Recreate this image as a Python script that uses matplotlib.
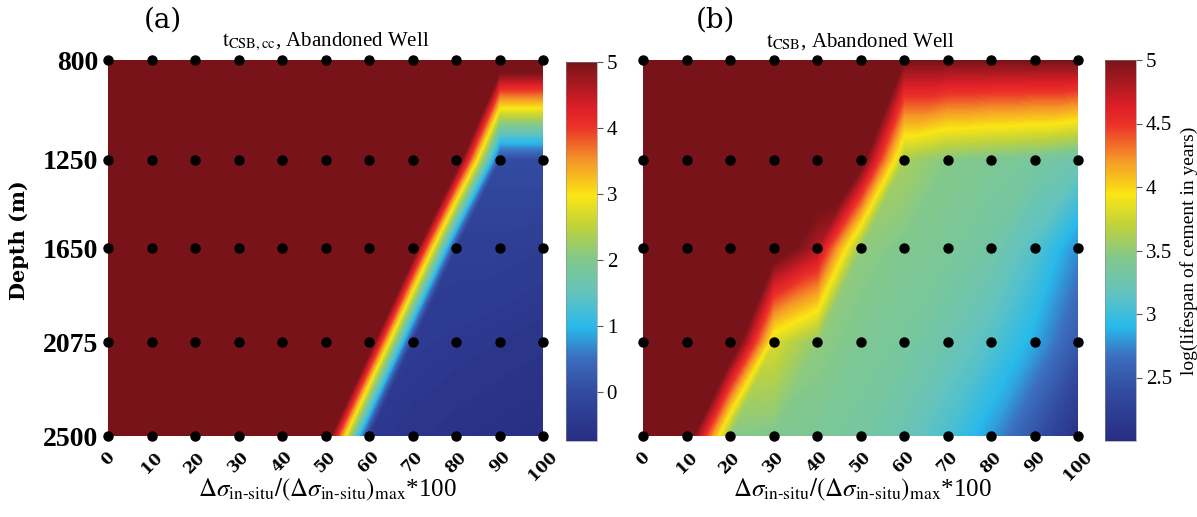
import numpy as np
import matplotlib
matplotlib.use("Agg")
import matplotlib.pyplot as plt
import matplotlib.tri as mtri
from matplotlib.colors import LinearSegmentedColormap, Normalize
from matplotlib.cm import ScalarMappable

plt.rcParams["mathtext.fontset"] = "stix"

# ---- data -------------------------------------------------------------
depth_m = [800, 1250, 1650, 2075, 2500]
stress_ratio = [0, 10, 20, 30, 40, 50, 60, 70, 80, 90, 100]

# log10 lifespan (years), t_CSB,cc  -- rows follow depth_m
t_csb_cc = [
    [5.7, 5.7, 5.7, 5.7, 5.7, 5.7, 5.7, 5.7, 5.7, 5.7, 5.7],
    [5.7, 5.7, 5.7, 5.7, 5.7, 5.7, 5.7, 5.7, 5.7, 0.0, 0.0],
    [5.7, 5.7, 5.7, 5.7, 5.7, 5.7, 5.7, 5.7, -0.3, -0.3, -0.35],
    [5.7, 5.7, 5.7, 5.7, 5.7, 5.7, 5.7, -0.4, -0.45, -0.5, -0.55],
    [5.7, 5.7, 5.7, 5.7, 5.7, 5.7, -0.45, -0.55, -0.62, -0.68, -0.72],
]

# log10 lifespan (years), t_CSB
t_csb = [
    [5.3, 5.3, 5.3, 5.3, 5.3, 5.3, 5.0, 5.0, 5.0, 5.0, 5.0],
    [5.3, 5.3, 5.3, 5.3, 5.3, 5.16, 3.6, 3.45, 3.4, 3.35, 3.25],
    [5.3, 5.3, 5.3, 5.2, 4.8, 3.5, 3.42, 3.38, 3.3, 3.1, 2.75],
    [5.3, 5.3, 5.38, 3.8, 3.5, 3.4, 3.35, 3.25, 3.1, 2.85, 2.5],
    [5.3, 5.27, 3.45, 3.42, 3.38, 3.33, 3.22, 3.05, 2.8, 2.45, 2.05],
]

range_a = (-0.75, 5.0)
range_b = (2.0, 5.0)
ticks_a = [0, 1, 2, 3, 4, 5]
ticks_b = [2.5, 3, 3.5, 4, 4.5, 5]
tick_labels_b = ["2.5", "3", "3.5", "4", "4.5", "5"]

# ---- colormap -----------------------------------------------------------
cmap = LinearSegmentedColormap.from_list("lifespan", [
    (0.00, (40/255, 45/255, 130/255)),
    (0.13, (50/255, 75/255, 160/255)),
    (0.22, (60/255, 110/255, 190/255)),
    (0.30, (40/255, 185/255, 235/255)),
    (0.39, (100/255, 195/255, 190/255)),
    (0.48, (130/255, 200/255, 140/255)),
    (0.565, (190/255, 210/255, 60/255)),
    (0.647, (250/255, 230/255, 20/255)),
    (0.74, (245/255, 150/255, 40/255)),
    (0.83, (235/255, 50/255, 40/255)),
    (0.88, (220/255, 30/255, 40/255)),
    (1.00, (120/255, 20/255, 25/255)),
], N=512)
cmap.set_over((120/255, 20/255, 25/255))
cmap.set_under((40/255, 45/255, 130/255))

# ---- grid triangulation (cells split lower-left to upper-right) ---------
X, Y = np.meshgrid(stress_ratio, depth_m)
nx, ny = len(stress_ratio), len(depth_m)
tris = []
for k in range(ny - 1):
    for i in range(nx - 1):
        a = k * nx + i          # shallow, left
        b = k * nx + i + 1      # shallow, right
        c = (k + 1) * nx + i    # deep, left
        d = (k + 1) * nx + i + 1
        tris.append([c, d, b])
        tris.append([c, a, b])
tri = mtri.Triangulation(X.ravel(), Y.ravel(), triangles=np.array(tris))

W, H = 1197, 517
fig = plt.figure(figsize=(W / 100, H / 100), dpi=100)


def fx(px):
    return px / W


def fy(py):
    return 1 - py / H


ax_a = fig.add_axes([fx(108), fy(436), fx(435), 376 / H])
ax_b = fig.add_axes([fx(643), fy(436), fx(435), 376 / H])
cax_a = fig.add_axes([fx(566), fy(441), fx(31), 379 / H])
cax_b = fig.add_axes([fx(1105), fy(441), fx(31), 381 / H])

titles = [r"$\mathrm{t}_{\mathrm{CSB,cc}}$, Abandoned Well",
          r"$\mathrm{t}_{\mathrm{CSB}}$, Abandoned Well"]

for ax, z, (lo, hi), title in [(ax_a, t_csb_cc, range_a, titles[0]),
                               (ax_b, t_csb, range_b, titles[1])]:
    levels = np.linspace(lo, hi, 160)
    ax.tricontourf(tri, np.asarray(z).ravel(), levels=levels, cmap=cmap,
                   extend="both", antialiased=False)
    ax.plot(X.ravel(), Y.ravel(), "o", color="black", ms=6.5,
            clip_on=False, zorder=5)
    ax.set_xlim(0, 100)
    ax.set_ylim(2500, 800)
    for s in ax.spines.values():
        s.set_visible(False)
    ax.set_xticks(stress_ratio)
    ax.set_xticklabels([str(v) for v in stress_ratio], rotation=45,
                       fontfamily="DejaVu Serif", fontweight="bold",
                       fontsize=11.5, ha="center", va="top")
    ax.tick_params(axis="x", length=0, pad=9)
    ax.set_yticks(depth_m)
    ax.tick_params(axis="y", length=0, pad=7)
    ax.set_title(title, fontfamily="Liberation Serif", fontsize=15, pad=10)

ax_a.set_yticklabels([str(d) for d in depth_m], fontfamily="Liberation Serif",
                     fontweight="bold", fontsize=20)
ax_b.set_yticklabels([])

xlabel = (r"$\Delta\sigma_{\text{in-situ}}/(\Delta\sigma_{\text{in-situ}})"
          r"_{\mathrm{max}}$*100")
for cx in (327, 862):
    fig.text(fx(cx), fy(490), xlabel, ha="center", va="center", fontsize=18,
             fontfamily="Liberation Serif")

fig.text(fx(19), fy(240), "Depth (m)", rotation=90, ha="center", va="center",
         fontfamily="DejaVu Serif", fontweight="bold", fontsize=15)
fig.text(fx(163), fy(20), "(a)", ha="center", va="center", fontsize=20,
         fontfamily="DejaVu Serif")
fig.text(fx(715), fy(20), "(b)", ha="center", va="center", fontsize=20,
         fontfamily="DejaVu Serif")

for cax, (lo, hi), ticks, labels in [(cax_a, range_a, ticks_a, [str(t) for t in ticks_a]),
                                     (cax_b, range_b, ticks_b, tick_labels_b)]:
    sm = ScalarMappable(norm=Normalize(lo, hi), cmap=cmap)
    cb = fig.colorbar(sm, cax=cax, ticks=ticks)
    cb.ax.set_yticklabels(labels, fontfamily="Liberation Serif", fontsize=15)
    cb.ax.tick_params(length=4, width=0.8, color="#555555", pad=3)
    cb.outline.set_linewidth(0.4)
    cb.outline.set_edgecolor("#888888")

cax_b.set_ylabel("log(lifespan of cement in years)", fontfamily="Liberation Serif",
                 fontsize=14, labelpad=6)

fig.savefig("out.png", dpi=100)
